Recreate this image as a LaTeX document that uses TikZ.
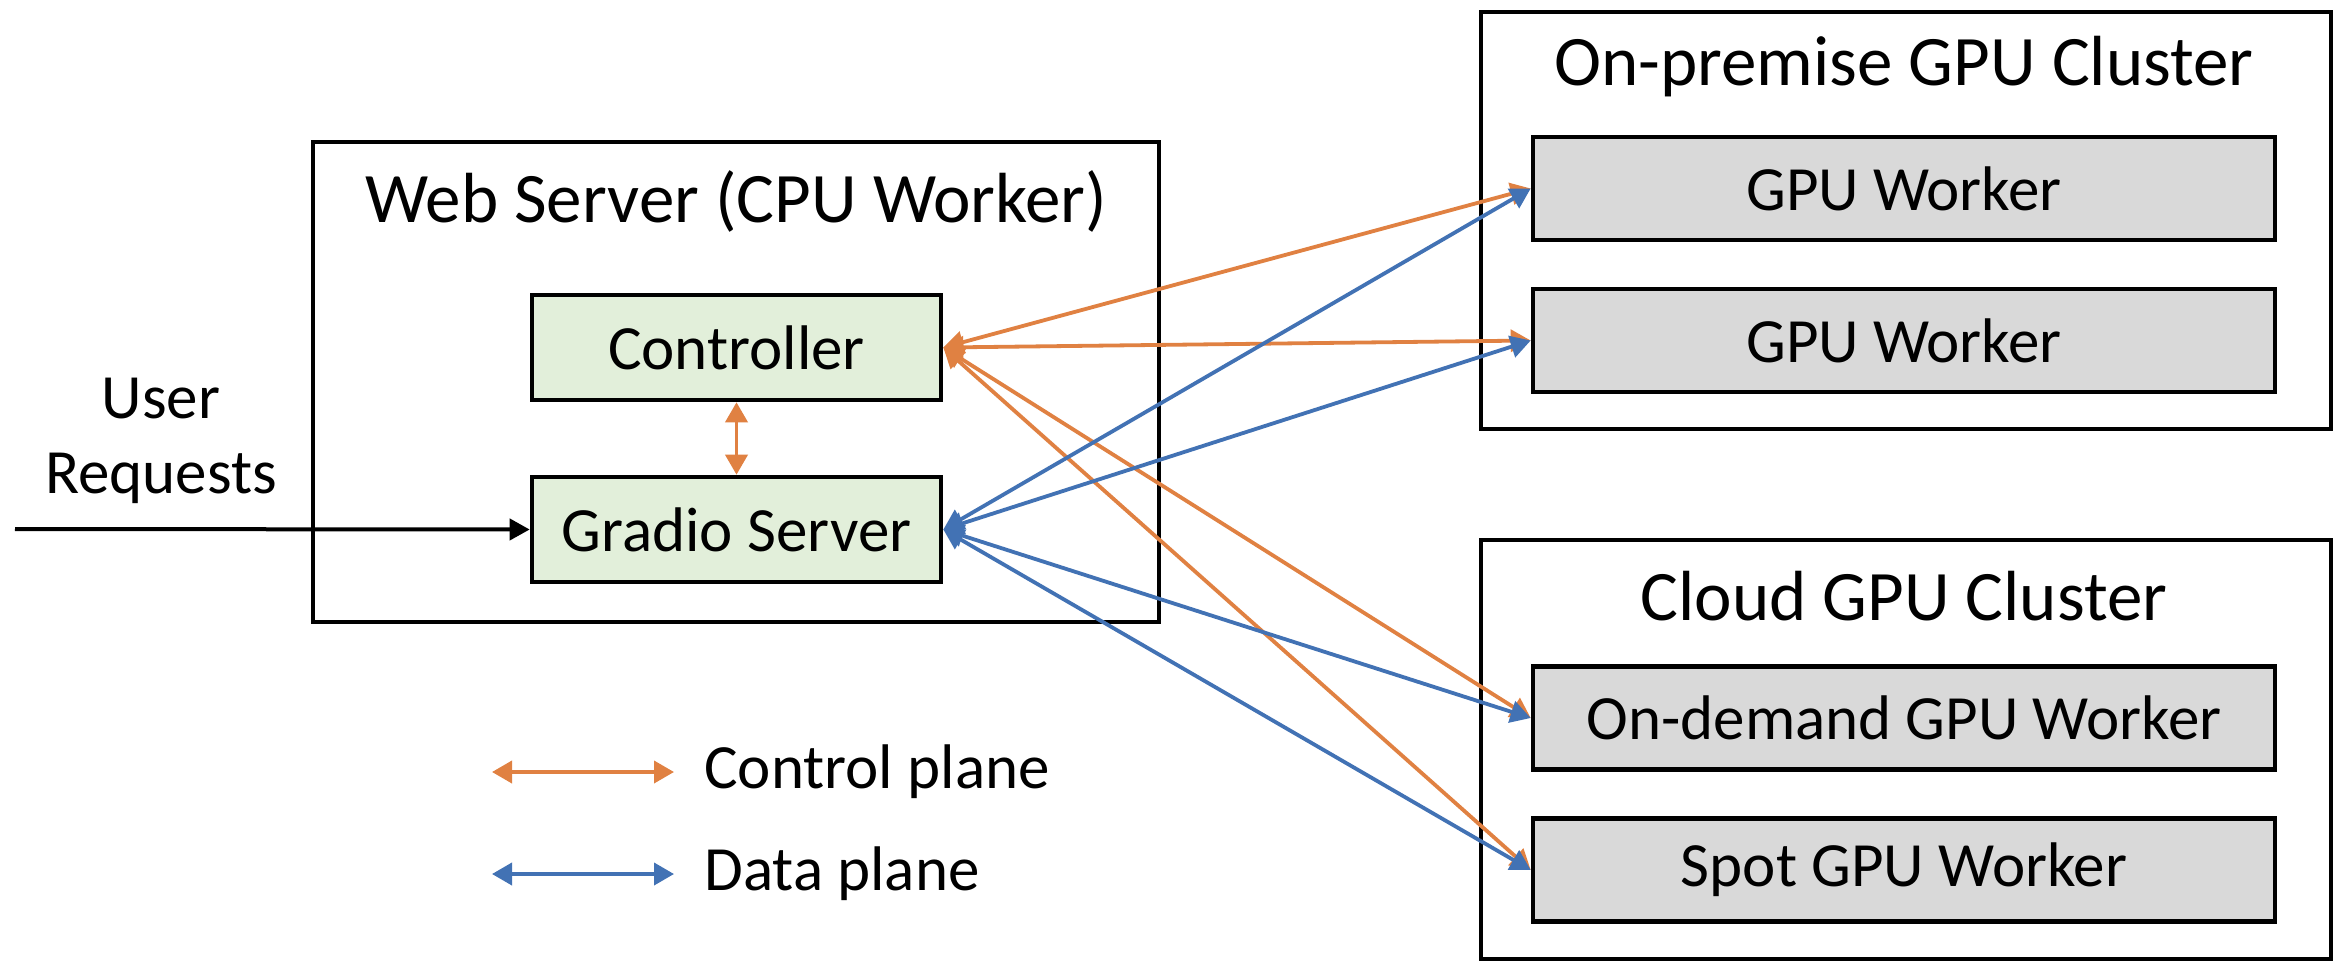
\documentclass[tikz,border=0pt]{standalone}
\usepackage{fontspec}
\setmainfont{Carlito}
\usetikzlibrary{arrows.meta}
\definecolor{ctrlorange}{RGB}{224,129,66}
\definecolor{datablue}{RGB}{66,114,180}
\definecolor{boxgreen}{RGB}{226,239,218}
\definecolor{boxgray}{RGB}{217,217,217}
\tikzset{
  outerbox/.style={draw=black, line width=2pt, fill=white, inner sep=0pt},
  greenbox/.style={draw=black, line width=2.3pt, fill=boxgreen, inner sep=0pt,
    minimum width=204.5pt, minimum height=52.5pt, font=\fontsize{31.5}{36}\selectfont},
  graybox/.style={draw=black, line width=2.3pt, fill=boxgray, inner sep=0pt,
    minimum width=371pt, minimum height=51.5pt, font=\fontsize{31.5}{36}\selectfont},
  titletext/.style={inner sep=0pt, font=\fontsize{35.5}{42}\selectfont},
  bodytext/.style={inner sep=0pt, font=\fontsize{31.5}{37.5}\selectfont},
  ctrlarrow/.style={draw=ctrlorange, line width=1.9pt, {Triangle[length=10pt,width=11pt]}-{Triangle[length=10pt,width=11pt]}},
  dataarrow/.style={draw=datablue, line width=1.9pt, {Triangle[length=10pt,width=11pt]}-{Triangle[length=10pt,width=11pt]}},
  inarrow/.style={draw=black, line width=2pt, -{Triangle[length=10pt,width=10.5pt]}}
}
\begin{document}
\begin{tikzpicture}[x=0.5pt,y=-0.5pt]
\useasboundingbox (0,0) rectangle (2338,974);
% containers
\node[outerbox, minimum width=423pt, minimum height=240pt] (web) at (736,382) {};
\node[outerbox, minimum width=425pt, minimum height=208.5pt] (onprem) at (1906,220.5) {};
\node[outerbox, minimum width=425pt, minimum height=209.5pt] (cloud) at (1906,749.5) {};
% titles
\node[titletext] (webtitle) at (736,201) {Web Server (CPU Worker)};
\node[titletext] (onpremtitle) at (1904,67) {On-premise GPU Cluster};
\node[titletext] (cloudtitle) at (1904,596) {Cloud GPU Cluster};
% inner boxes
\node[greenbox] (ctrl) at (736.5,347.5) {Controller};
\node[greenbox] (gradio) at (736.5,529.5) {Gradio Server};
\node[graybox] (gw1) at (1904,188.5) {GPU Worker};
\node[graybox] (gw2) at (1904,340.5) {GPU Worker};
\node[graybox] (od) at (1904,718) {On-demand GPU Worker};
\node[graybox] (spot) at (1904,870) {Spot GPU Worker};
% user requests
\node[bodytext, align=center] (user) at (161,441) {User\\Requests};
\coordinate (instart) at (15,529);
\draw[inarrow] (instart) -- (gradio.west);
% control plane
\draw[ctrlarrow] (ctrl.south) -- (gradio.north);
\draw[ctrlarrow] (ctrl.east) -- (gw1.west);
\draw[ctrlarrow] (ctrl.east) -- (gw2.west);
\draw[ctrlarrow] (ctrl.east) -- (od.west);
\draw[ctrlarrow] (ctrl.east) -- (spot.west);
% data plane
\draw[dataarrow] (gradio.east) -- (gw1.west);
\draw[dataarrow] (gradio.east) -- (gw2.west);
\draw[dataarrow] (gradio.east) -- (od.west);
\draw[dataarrow] (gradio.east) -- (spot.west);
% legend
\coordinate (lc1) at (492,772);
\coordinate (lc2) at (674,772);
\coordinate (ld1) at (492,874);
\coordinate (ld2) at (674,874);
\draw[ctrlarrow] (lc1) -- (lc2);
\draw[dataarrow] (ld1) -- (ld2);
\node[bodytext, anchor=west] (ctrllabel) at (704,772) {Control plane};
\node[bodytext, anchor=west] (datalabel) at (704,874) {Data plane};
\end{tikzpicture}
\end{document}
